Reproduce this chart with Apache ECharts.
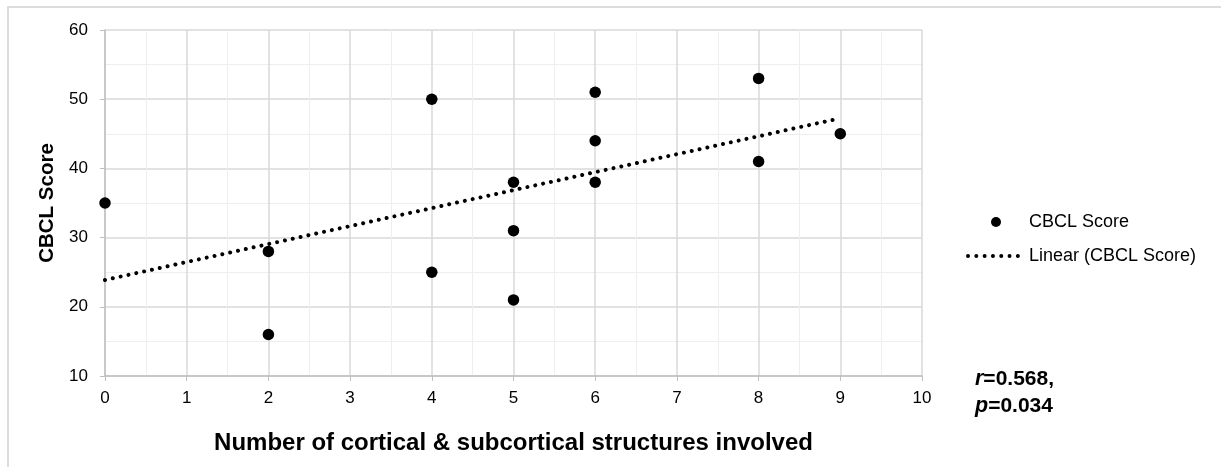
<!DOCTYPE html>
<html>
<head>
<meta charset="utf-8">
<script src="https://cdn.jsdelivr.net/npm/echarts@6/dist/echarts.min.js"></script>
<style>
html,body{margin:0;padding:0;background:#fff;}
#c{width:1221px;height:467px;}
</style>
</head>
<body>
<div id="c"></div>
<script>
// Data
const structuresInvolved = [0, 2, 2, 4, 4, 5, 5, 5, 6, 6, 6, 8, 8, 9];
const cbclScores = [35, 28, 16, 50, 25, 38, 31, 21, 51, 44, 38, 53, 41, 45];
const xTicks = [0, 1, 2, 3, 4, 5, 6, 7, 8, 9, 10];
const yTicks = [10, 20, 30, 40, 50, 60];
const seriesName = 'CBCL Score';
const trendName = 'Linear (CBCL Score)';
const statsR = '0.568,';
const statsP = '0.034';

// least-squares trend line from the data
const n = structuresInvolved.length;
const mx = structuresInvolved.reduce((a, b) => a + b, 0) / n;
const my = cbclScores.reduce((a, b) => a + b, 0) / n;
let sxy = 0, sxx = 0;
for (let i = 0; i < n; i++) {
  sxy += (structuresInvolved[i] - mx) * (cbclScores[i] - my);
  sxx += (structuresInvolved[i] - mx) ** 2;
}
const slope = sxy / sxx;
const intercept = my - slope * mx;
const xMinData = Math.min(...structuresInvolved);
const xMaxData = Math.max(...structuresInvolved);
const trendData = [[xMinData, intercept + slope * xMinData], [xMaxData, intercept + slope * xMaxData]];

const chart = echarts.init(document.getElementById('c'));
const font = 'Liberation Sans, Arial, sans-serif';
const dotted = { color: '#000', width: 4, type: [0.01, 8], cap: 'round' };
chart.setOption({
  animation: false,
  textStyle: { fontFamily: font },
  grid: { left: 105, right: 299, top: 30, bottom: 91 },
  xAxis: {
    type: 'value', min: xTicks[0], max: xTicks[xTicks.length - 1], interval: 1,
    name: 'Number of cortical & subcortical structures involved',
    nameLocation: 'middle', nameGap: 55,
    nameTextStyle: { fontSize: 24, fontWeight: 'bold', color: '#000', fontFamily: font },
    axisLine: { show: true, lineStyle: { color: '#bfbfbf', width: 1.5 } },
    axisTick: { show: true, length: 5, lineStyle: { color: '#bfbfbf' } },
    axisLabel: { fontSize: 17, color: '#000', margin: 14, fontFamily: font },
    splitLine: { show: true, lineStyle: { color: '#d9d9d9', width: 1.5 } },
    minorTick: { show: false, splitNumber: 2 },
    minorSplitLine: { show: true, lineStyle: { color: '#eeeeee', width: 1 } }
  },
  yAxis: {
    type: 'value', min: yTicks[0], max: yTicks[yTicks.length - 1], interval: 10,
    name: 'CBCL Score', nameLocation: 'middle', nameGap: 46, nameRotate: 90,
    nameTextStyle: { fontSize: 20.5, fontWeight: 'bold', color: '#000', fontFamily: font },
    axisLine: { show: true, lineStyle: { color: '#bfbfbf', width: 1.5 } },
    axisTick: { show: true, length: 5, lineStyle: { color: '#bfbfbf' } },
    axisLabel: { fontSize: 17, color: '#000', margin: 17, fontFamily: font },
    splitLine: { show: true, lineStyle: { color: '#d9d9d9', width: 1.5 } },
    minorTick: { show: false, splitNumber: 2 },
    minorSplitLine: { show: true, lineStyle: { color: '#eeeeee', width: 1 } }
  },
  legend: {
    orient: 'vertical', left: 966, top: 213, padding: 0, itemWidth: 56, itemHeight: 10, itemGap: 16,
    textStyle: { fontSize: 18, color: '#000', fontFamily: font },
    data: [
      { name: seriesName, icon: 'circle', itemStyle: { color: '#000', opacity: 1 } },
      { name: trendName, itemStyle: { opacity: 0 }, lineStyle: { color: '#000', width: 4, type: [0.01, 8.3], cap: 'round' } }
    ]
  },
  series: [
    {
      name: seriesName, type: 'scatter', symbol: 'circle', symbolSize: 11.5,
      itemStyle: { color: '#000', opacity: 1 },
      data: structuresInvolved.map((x, i) => [x, cbclScores[i]]),
      z: 3
    },
    {
      name: trendName, type: 'line', symbol: 'none', silent: true,
      lineStyle: dotted,
      itemStyle: { color: '#000' },
      data: trendData, z: 2
    }
  ],
  graphic: [
    { type: 'line', shape: { x1: 7, y1: 7, x2: 1221, y2: 7 }, style: { stroke: '#dcdcdc', lineWidth: 2 } },
    { type: 'line', shape: { x1: 8, y1: 7, x2: 8, y2: 467 }, style: { stroke: '#dcdcdc', lineWidth: 2 } },
    {
      type: 'text', left: 975, top: 366,
      style: {
        text: '{i|r}{b|=' + statsR + '}\n{i|p}{b|=' + statsP + '}',
        lineHeight: 27,
        rich: {
          i: { fontFamily: font, fontStyle: 'italic', fontWeight: 'bold', fontSize: 21.5, fill: '#000', lineHeight: 27 },
          b: { fontFamily: font, fontWeight: 'bold', fontSize: 21, fill: '#000', lineHeight: 27 }
        }
      }
    }
  ]
});
</script>
</body>
</html>
